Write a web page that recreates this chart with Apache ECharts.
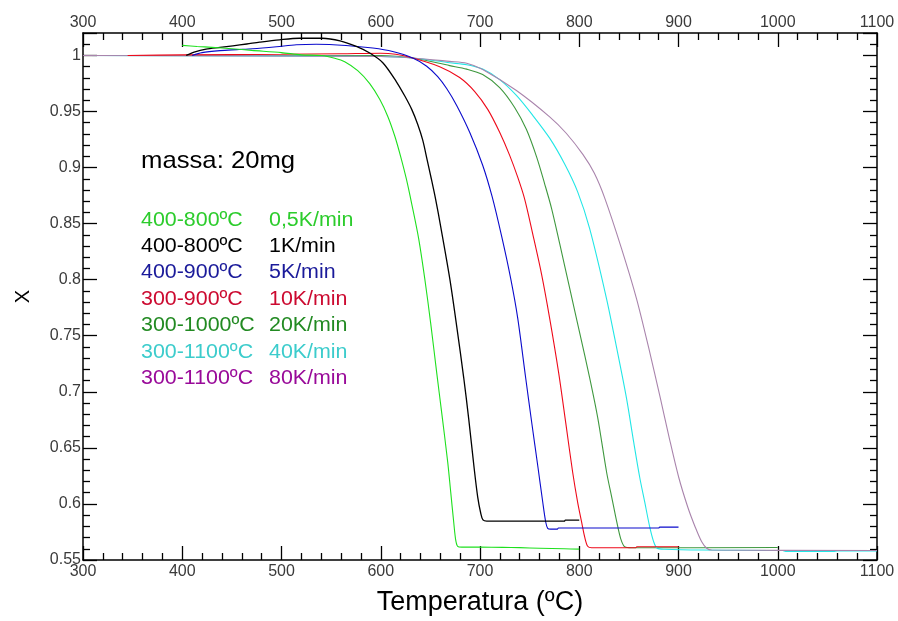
<!DOCTYPE html>
<html>
<head>
<meta charset="utf-8">
<script src="https://cdn.jsdelivr.net/npm/echarts@6/dist/echarts.min.js"></script>
<style>
  html, body { margin: 0; padding: 0; background: #fff; }
  #chart { width: 898px; height: 621px; }
</style>
</head>
<body>
<div id="chart"></div>
<script>
// Conversion X versus temperature for several heating rates (sample mass 20 mg)

// 400-800 ºC, 0,5 K/min
const t05 = [400, 415, 430, 450, 470, 500, 520, 540.5, 553.6, 563.7, 576.8, 588.9, 599.1, 607.1, 614.2, 620.2, 625.8, 631.2, 638.2, 644.3, 650.3, 656.4, 661.4, 667.5, 670.5, 673.5, 675.5, 677.5, 681.6, 700, 723, 740, 760, 785, 800];
const x05 = [1.009, 1.008, 1.0072, 1.006, 1.0045, 1.0025, 1.0005, 0.9999, 0.9975, 0.9944, 0.9864, 0.9749, 0.9607, 0.9456, 0.9279, 0.9093, 0.8898, 0.8676, 0.8366, 0.8011, 0.7613, 0.7169, 0.6814, 0.6371, 0.6105, 0.5839, 0.5680, 0.5622, 0.5615, 0.5615, 0.5613, 0.561, 0.5605, 0.560, 0.5597];

// 400-800 ºC, 1 K/min
const t1 = [404, 412, 424, 438, 451, 465, 478, 498, 518, 541, 559, 575.4, 588.9, 602.3, 615.8, 624.1, 631.2, 637.2, 642.3, 646.8, 651, 655.4, 660.4, 669.5, 676.5, 683.6, 688.6, 694, 697.7, 700.7, 703, 706.8, 785, 786, 800];
const x1 = [1.0, 1.003, 1.0057, 1.0072, 1.0086, 1.0102, 1.0118, 1.0139, 1.0153, 1.0153, 1.013, 1.008, 1.0021, 0.9933, 0.9765, 0.9640, 0.9519, 0.9386, 0.9244, 0.9066, 0.8898, 0.8712, 0.8473, 0.8011, 0.7586, 0.7125, 0.6761, 0.6327, 0.6061, 0.5919, 0.5857, 0.5846, 0.5846, 0.5855, 0.5855];

// 400-900 ºC, 5 K/min
const t5 = [410, 420, 438, 455, 471, 495, 515, 535, 565, 592, 612, 632.2, 646.3, 657.4, 666.4, 676.5, 689.6, 702.7, 712.3, 721.9, 730.9, 738, 746, 752.1, 758.4, 763.2, 766.2, 768.2, 771.2, 778, 779, 880, 881, 900];
const x5 = [1.0, 1.0025, 1.0043, 1.0052, 1.006, 1.0078, 1.0095, 1.010, 1.0089, 1.0066, 1.0035, 0.9977, 0.9904, 0.9811, 0.9705, 0.9554, 0.9315, 0.9021, 0.8738, 0.8383, 0.8011, 0.7657, 0.7125, 0.6726, 0.6327, 0.6017, 0.5839, 0.5782, 0.5775, 0.5775, 0.5785, 0.5785, 0.5793, 0.5793];

// 300-900 ºC, 10 K/min
const t10 = [345, 400, 500, 560, 600, 615, 632.2, 659.4, 679.5, 694.7, 707.8, 719.8, 729.9, 738, 745, 753.1, 761.9, 770.2, 779.3, 786.4, 793.4, 798.4, 802.4, 805.5, 808.5, 812.5, 857, 858, 900];
const x10 = [1.0, 1.0005, 1.001, 1.0015, 1.002, 1.001, 0.9977, 0.99, 0.9803, 0.9678, 0.9519, 0.9315, 0.9109, 0.8914, 0.8719, 0.8409, 0.8054, 0.7655, 0.7167, 0.6723, 0.628, 0.6014, 0.5837, 0.5704, 0.5622, 0.5609, 0.5609, 0.5618, 0.5618];

// 300-1000 ºC, 20 K/min
const t20 = [300, 600, 632.2, 669.5, 686.6, 702.7, 719.8, 734.9, 746.7, 757.1, 765.2, 772.2, 780.3, 790.4, 800.5, 810.5, 818.6, 827.7, 832.7, 837.8, 841.8, 845.8, 852.9, 1000];
const x20 = [1.0, 1.0, 0.9977, 0.9909, 0.9878, 0.9829, 0.9713, 0.9536, 0.9341, 0.9093, 0.8853, 0.8632, 0.8321, 0.7922, 0.7523, 0.7125, 0.677, 0.6276, 0.6061, 0.5839, 0.5689, 0.5618, 0.5609, 0.5612];

// 300-1100 ºC, 40 K/min
const t40 = [300, 600, 632.2, 669.5, 686.6, 702.7, 719.8, 736.7, 753.1, 770.2, 785.3, 798.4, 810.5, 827.4, 837.7, 847.5, 854.9, 860.9, 866, 871, 875, 878.5, 886.1, 924, 1005, 1008, 1056, 1060, 1100];
const x40 = [1.0, 0.999, 0.9977, 0.9935, 0.9917, 0.9878, 0.9784, 0.9643, 0.9466, 0.9262, 0.9031, 0.8783, 0.8455, 0.7834, 0.7391, 0.6948, 0.6549, 0.6238, 0.6016, 0.5795, 0.5662, 0.5605, 0.5596, 0.5589, 0.5585, 0.5577, 0.5577, 0.558, 0.558];

// 300-1100 ºC, 80 K/min
const t80 = [300, 600, 632.2, 669.5, 686.6, 702.7, 736.7, 770.2, 786.9, 803.8, 815.1, 825.6, 842.3, 857.6, 870, 881.6, 890.6, 900.2, 909.3, 916.8, 923.4, 928.4, 933.4, 1100];
const x80 = [1.0, 0.999, 0.9977, 0.9947, 0.9931, 0.9875, 0.9687, 0.9452, 0.9306, 0.9115, 0.8951, 0.8730, 0.8286, 0.7834, 0.7391, 0.6948, 0.6592, 0.6238, 0.5973, 0.5795, 0.5662, 0.5605, 0.5589, 0.5585];

// Legend rows: temperature range and heating rate
const ranges = ['400-800ºC', '400-800ºC', '400-900ºC', '300-900ºC', '300-1000ºC', '300-1100ºC', '300-1100ºC'];
const rates = ['0,5K/min', '1K/min', '5K/min', '10K/min', '20K/min', '40K/min', '80K/min'];
const textColors = ['#2ccc2c', '#000000', '#1a1a9a', '#cc0a30', '#228a22', '#3ccccc', '#990a99'];

const FONT = 'Arial, "Liberation Sans", sans-serif';

function pairs(t, x) {
  return t.map((v, i) => [v, x[i]]);
}

function line(name, t, x, color, width) {
  return {
    name: name,
    type: 'line',
    data: pairs(t, x),
    showSymbol: false,
    smooth: 0.3,
    lineStyle: { color: color, width: width || 1.1 },
    emphasis: { disabled: true },
    xAxisIndex: 0,
    yAxisIndex: 0
  };
}

const tickStyle = { color: '#000', width: 1.3 };

function xAx(pos, withName) {
  const a = {
    type: 'value',
    position: pos,
    min: 300,
    max: 1100,
    interval: 100,
    axisLine: { show: true, onZero: false, lineStyle: { color: '#000', width: 1.5 } },
    axisTick: { show: true, inside: true, length: 14, lineStyle: tickStyle },
    minorTick: { show: true, splitNumber: 5, length: 7, lineStyle: tickStyle },
    splitLine: { show: false },
    axisLabel: { show: true, color: '#3a3a3a', fontSize: 16, fontFamily: FONT, margin: pos === 'top' ? 2 : 4, formatter: v => String(v) }
  };
  if (withName) {
    a.name = 'Temperatura (ºC)';
    a.nameLocation = 'middle';
    a.nameGap = 29;
    a.nameTextStyle = { fontSize: 27, color: '#000', fontFamily: FONT };
  }
  return a;
}

function yAx(pos, withLabels) {
  const a = {
    type: 'value',
    position: pos,
    min: 0.55,
    max: 1.02,
    interval: 0.05,
    axisLine: { show: true, onZero: false, lineStyle: { color: '#000', width: 1.5 } },
    axisTick: { show: true, inside: true, length: 14, lineStyle: tickStyle },
    minorTick: { show: true, splitNumber: 5, length: 7, lineStyle: tickStyle },
    splitLine: { show: false },
    axisLabel: { show: withLabels, color: '#3a3a3a', fontSize: 16, fontFamily: FONT, margin: 2, showMaxLabel: false }
  };
  if (withLabels) {
    a.name = 'X';
    a.nameLocation = 'middle';
    a.nameGap = 50;
    a.nameRotate = 90;
    a.nameTextStyle = { fontSize: 20, color: '#000', fontFamily: FONT };
  }
  return a;
}

const legendText = [];
legendText.push({
  type: 'text', x: 141, y: 161, scaleX: 1.07,
  style: { text: 'massa: 20mg', font: '24px ' + FONT, fill: '#000', verticalAlign: 'middle' }
});
ranges.forEach((r, i) => {
  const y = 220 + i * 26.4;
  legendText.push({
    type: 'text', x: 141, y: y, scaleX: 1.07,
    style: { text: r, font: '20px ' + FONT, fill: textColors[i], verticalAlign: 'middle' }
  });
  legendText.push({
    type: 'text', x: 269, y: y, scaleX: 1.07,
    style: { text: rates[i], font: '20px ' + FONT, fill: textColors[i], verticalAlign: 'middle' }
  });
});

const chart = echarts.init(document.getElementById('chart'), null, { renderer: 'canvas' });
chart.setOption({
  backgroundColor: '#ffffff',
  animation: false,
  grid: { left: 83, right: 21, top: 33, bottom: 58, containLabel: false },
  xAxis: [xAx('bottom', true), xAx('top', false)],
  yAxis: [yAx('left', true), yAx('right', false)],
  series: [
    line('300-1000ºC 20K/min', t20, x20, '#3f983f'),
    line('300-1100ºC 40K/min', t40, x40, '#22e6e6'),
    line('300-1100ºC 80K/min', t80, x80, '#a984ac'),
    line('300-900ºC 10K/min', t10, x10, '#ee0a1a'),
    line('400-900ºC 5K/min', t5, x5, '#0a0acc'),
    line('400-800ºC 1K/min', t1, x1, '#000000', 1.3),
    line('400-800ºC 0,5K/min', t05, x05, '#1ee01e')
  ],
  graphic: legendText
});
</script>
</body>
</html>
